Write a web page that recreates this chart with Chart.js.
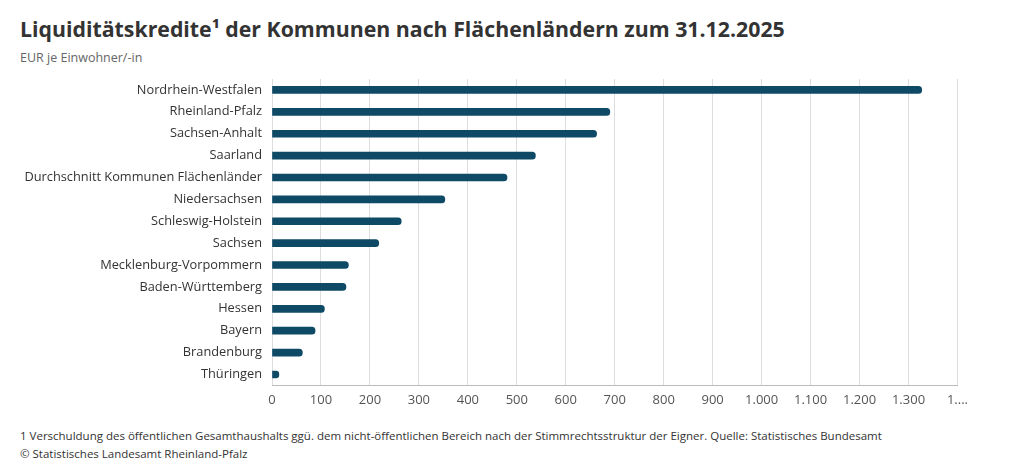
<!DOCTYPE html>
<html>
<head>
<meta charset="utf-8">
<script src="https://cdn.jsdelivr.net/npm/chart.js@4"></script>
<style>
  body { margin: 0; background: #fff; font-family: "Open Sans", sans-serif; }
  #wrap { position: relative; width: 1024px; height: 471px; }
  h1 { position: absolute; left: 20px; top: 14px; margin: 0; font-size: 21.3px; font-weight: 700; color: #333; }
  #sub { position: absolute; left: 20px; top: 49px; font-size: 12.5px; color: #666; }
  #chartBox { position: absolute; left: 0; top: 60px; width: 975px; height: 355px; }
  .foot { position: absolute; left: 20px; font-size: 11.5px; color: #333; }
</style>
</head>
<body>
<div id="wrap">
  <h1>Liquiditätskredite¹ der Kommunen nach Flächenländern zum 31.12.2025</h1>
  <div id="sub">EUR je Einwohner/-in</div>
  <div id="chartBox"><canvas id="chart"></canvas></div>
  <div class="foot" style="top:428px">1 Verschuldung des öffentlichen Gesamthaushalts ggü. dem nicht-öffentlichen Bereich nach der Stimmrechtsstruktur der Eigner. Quelle: Statistisches Bundesamt</div>
  <div class="foot" style="top:446px">© Statistisches Landesamt Rheinland-Pfalz</div>
</div>
<script>
// Regions, sorted by value (descending)
const regions = [
    "Nordrhein-Westfalen", "Rheinland-Pfalz", "Sachsen-Anhalt", "Saarland",
    "Durchschnitt Kommunen Flächenländer", "Niedersachsen", "Schleswig-Holstein",
    "Sachsen", "Mecklenburg-Vorpommern", "Baden-Württemberg", "Hessen",
    "Bayern", "Brandenburg", "Thüringen"
]
// EUR per inhabitant
const values = [1327, 690, 663, 538, 480, 353, 264, 218, 156, 151, 107, 88, 62, 14]

const barColor = "#0e4a66"

// German thousands separator, the last tick is cut off like in the original
function formatTick(value) {
    if (value >= 1400) return "1...."
    return value.toLocaleString("de-DE")
}

const chart = new Chart(document.getElementById("chart"), {
    type: "bar",
    data: {
        labels: regions,
        datasets: [{
            data: values,
            backgroundColor: barColor,
            borderRadius: 4,
            borderSkipped: "start",
            barThickness: 7
        }]
    },
    options: {
        indexAxis: "y",
        responsive: true,
        maintainAspectRatio: false,
        animation: false,
        layout: { padding: { top: 19, right: 0, bottom: 0 } },
        scales: {
            x: {
                min: 0,
                max: 1400,
                ticks: {
                    stepSize: 100,
                    callback: formatTick,
                    color: "#555",
                    font: { family: "Open Sans", size: 13 },
                    padding: 7
                },
                grid: { color: "#dddddd", drawTicks: false },
                border: { display: true, color: "#bbbbbb" }
            },
            y: {
                // fixed label column so the plot starts where the original does
                afterFit: function (scale) { scale.width = 272 },
                ticks: {
                    color: "#333",
                    font: { family: "Open Sans", size: 12.8 },
                    padding: 2
                },
                grid: { display: false },
                border: { display: false }
            }
        },
        plugins: {
            legend: { display: false },
            tooltip: { enabled: false }
        }
    }
})
</script>
</body>
</html>
